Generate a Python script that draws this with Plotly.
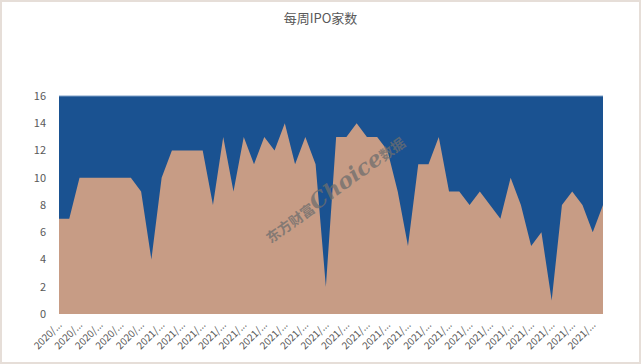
import plotly.graph_objects as go
import datetime as dt

title = "每周IPO家数"
start = dt.date(2020, 10, 23)
weeks = [(start + dt.timedelta(days=7 * i)) for i in range(54)]
dates = [f"{d.year}/{d.month}/{d.day}" for d in weeks]
values = [7, 7, 10, 10, 10, 10, 10, 10, 9, 4,
          10, 12, 12, 12, 12, 8, 13, 9, 13, 11,
          13, 12, 14, 11, 13, 11, 2, 13, 13, 14,
          13, 13, 12, 9, 5, 11, 11, 13, 9, 9,
          8, 9, 8, 7, 10, 8, 5, 6, 1, 8,
          9, 8, 6, 8]
y_ticks = [0, 2, 4, 6, 8, 10, 12, 14, 16]

idx = list(range(len(values)))
tick_idx = idx[::2]
tick_text = [dates[i][:5] + "..." for i in tick_idx]

W, H = 641, 364
L, R, T, B = 59, 38, 96, 50
pw, ph = W - L - R, H - T - B

def px(x):
    return (x - L) / pw

def py(y):
    return (H - B - y) / ph

fig = go.Figure()
fig.add_trace(go.Scatter(
    x=idx, y=values, mode="lines", fill="tozeroy",
    line=dict(width=0, color="#C79C85"), fillcolor="#C79C85",
    hoverinfo="x+y", showlegend=False))

fig.update_layout(
    width=W, height=H,
    margin=dict(l=L, r=R, t=T, b=B, autoexpand=False),
    paper_bgcolor="white",
    plot_bgcolor="#1A5291",
    title=dict(text=title, x=0.5, xanchor="center", y=1 - 18 / H, yanchor="middle",
               font=dict(family="Noto Sans CJK SC", size=13, color="#595959")),
    xaxis=dict(range=[0, len(values) - 1], tickmode="array", tickvals=tick_idx,
               ticktext=tick_text, tickangle=-45, showgrid=False, zeroline=False,
               showline=False, ticks="", ticklabelstandoff=2, automargin=False,
               tickfont=dict(family="Noto Sans CJK SC", size=10, color="#595959")),
    yaxis=dict(range=[0, 16], tickmode="array", tickvals=y_ticks, showgrid=False,
               zeroline=False, showline=False, ticks="", ticklabelstandoff=12,
               automargin=False,
               tickfont=dict(family="Noto Sans CJK SC", size=11, color="#595959")),
    shapes=[
        dict(type="line", xref="paper", yref="paper", x0=0, x1=1, y0=1, y1=1,
             line=dict(color="#7FA0C8", width=1)),
        dict(type="rect", xref="paper", yref="paper",
             x0=px(1), x1=px(W - 1), y0=py(1), y1=py(H - 1),
             line=dict(color="#E6DED8", width=2), fillcolor="rgba(0,0,0,0)",
             layer="below"),
    ],
    annotations=[
        dict(text="<b>东方财富<i><span style='font-size:22px'>Choice</span></i>数据</b>",
             xref="paper", yref="paper", x=px(334), y=py(188),
             showarrow=False, textangle=-36,
             font=dict(family="DejaVu Serif, Noto Sans CJK SC", size=14,
                       color="rgba(110,110,110,0.75)")),
    ],
)

fig.write_html("out.html", config={"displayModeBar": False},
               post_script="document.body.style.margin='0px';document.body.style.overflow='hidden';")
